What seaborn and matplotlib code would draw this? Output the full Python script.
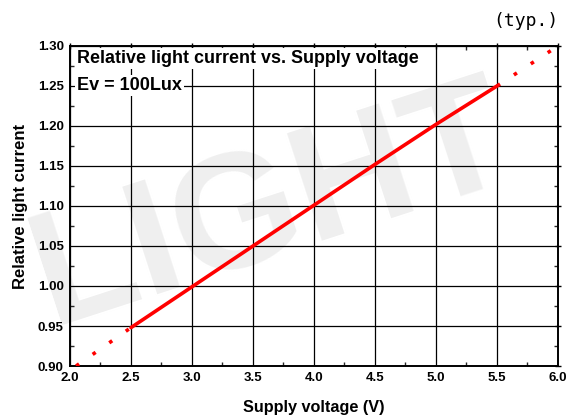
import matplotlib
matplotlib.use("Agg")
import matplotlib.pyplot as plt
import seaborn as sns
import pandas as pd
from matplotlib.ticker import MultipleLocator

# Measured curve (solid part) and extrapolated ends (dotted)
voltage = [2.5, 3.0, 3.5, 4.0, 4.5, 5.0, 5.5]
rel_current = [0.948, 0.999, 1.050, 1.101, 1.152, 1.202, 1.250]
low_voltage = [2.05, 2.2, 2.35, 2.5]
low_current = [0.900, 0.916, 0.932, 0.948]
high_voltage = [5.5, 5.65, 5.8, 5.95]
high_current = [1.250, 1.265, 1.280, 1.295]

x_ticks = [2.0, 2.5, 3.0, 3.5, 4.0, 4.5, 5.0, 5.5, 6.0]
y_ticks = [0.90, 0.95, 1.00, 1.05, 1.10, 1.15, 1.20, 1.25, 1.30]

sns.set_theme(style="white")
plt.rcParams["font.family"] = ["Liberation Sans", "DejaVu Sans"]
plt.rcParams["text.color"] = "black"
plt.rcParams["axes.labelcolor"] = "black"

fig = plt.figure(figsize=(5.79, 4.17), dpi=100)
ax = fig.add_axes([0.1209, 0.1223, 0.8428, 0.7674])
ax.set_axisbelow(True)

# faint watermark behind everything
ax.text(0.47, 0.50, "LIGHT", fontsize=118, fontweight="bold", color="#efefef",
        rotation=18, ha="center", va="center", zorder=0.1,
        transform=fig.transFigure, clip_on=False)

df = pd.DataFrame({"v": voltage, "i": rel_current})
sns.lineplot(data=df, x="v", y="i", ax=ax, color="red", linewidth=2.6, zorder=3)
for xs, ys in [(low_voltage, low_current), (high_voltage, high_current)]:
    d = pd.DataFrame({"v": xs, "i": ys})
    sns.lineplot(data=d, x="v", y="i", ax=ax, color="red", linewidth=2.6,
                 linestyle=(0, (1.0, 4.6)), zorder=3)

ax.set_xlim(2.0, 6.0)
ax.set_ylim(0.90, 1.30)
ax.set_xticks(x_ticks)
ax.set_yticks(y_ticks)
ax.set_xticklabels([f"{t:.1f}" for t in x_ticks])
ax.set_yticklabels([f"{t:.2f}" for t in y_ticks])
ax.xaxis.set_minor_locator(MultipleLocator(0.25))
ax.yaxis.set_minor_locator(MultipleLocator(0.025))
ax.grid(True, which="major", color="black", linewidth=0.9)
ax.tick_params(which="major", direction="inout", length=5, width=1,
               top=True, right=True, labelsize=9.5, pad=2, colors="black")
ax.tick_params(which="minor", direction="in", length=3, width=1,
               top=True, right=True, bottom=True, left=True)
for lab in ax.get_xticklabels() + ax.get_yticklabels():
    lab.set_fontweight("bold")
for s in ax.spines.values():
    s.set_color("black")
    s.set_linewidth(1.4)

ax.set_xlabel("Supply voltage (V)", fontsize=11.7, fontweight="bold", labelpad=11)
ax.set_ylabel("Relative light current", fontsize=12, fontweight="bold", labelpad=7)

box = dict(facecolor="white", edgecolor="none", pad=1.5)
ax.text(2.06, 1.284, "Relative light current vs. Supply voltage", fontsize=12.9,
        fontweight="bold", va="center", ha="left", bbox=box, zorder=4)
ax.text(2.06, 1.251, "Ev = 100Lux", fontsize=13, fontweight="bold",
        va="center", ha="left", bbox=box, zorder=4)
fig.text(0.965, 0.95, "(typ.)", fontsize=13, family="DejaVu Sans Mono",
         ha="right", va="center", color="black")

fig.savefig("out.png", dpi=100)
